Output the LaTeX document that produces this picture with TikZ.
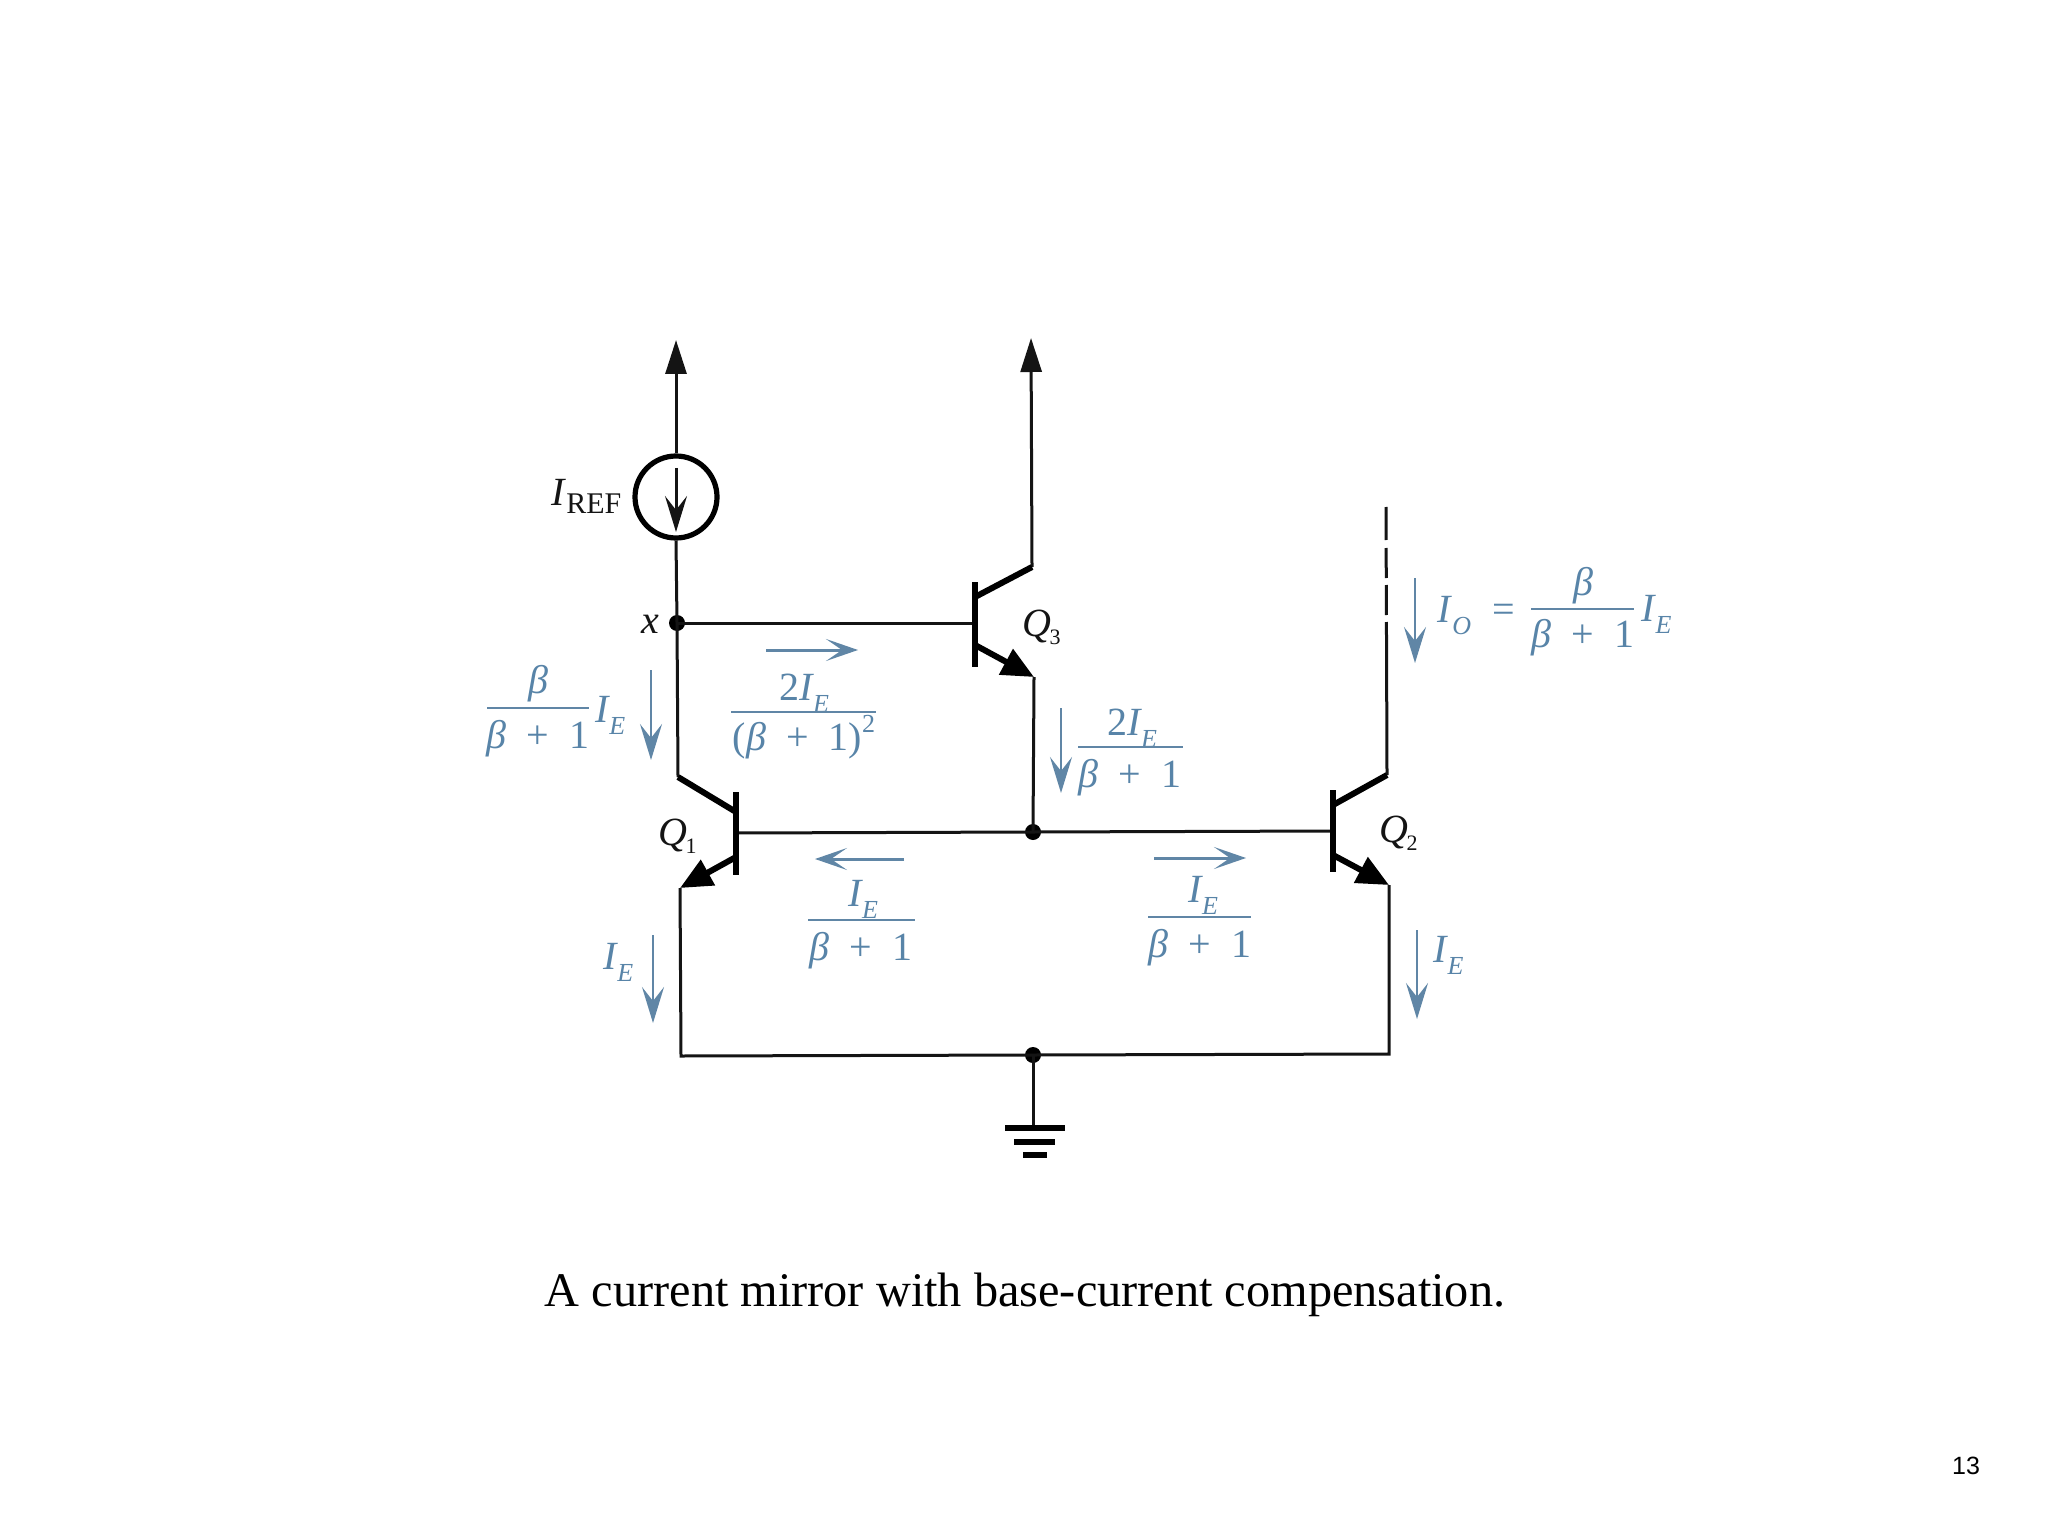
\documentclass[tikz,border=0pt]{standalone}
\usepackage{fontspec}
\setmainfont{Liberation Serif}
\newfontfamily\sansf{Liberation Sans}
\usetikzlibrary{arrows.meta}
\definecolor{bluelab}{RGB}{88,132,168}
\definecolor{blueline}{RGB}{96,134,166}
\definecolor{inkk}{RGB}{20,20,20}
\newcommand{\IE}{\textit{I}\kern-.02em\raisebox{-.32em}{\fontsize{13}{13}\selectfont\textit{E}}}
\newcommand{\bpo}{\textit{β}\hspace{.5em}+\hspace{.5em}1}
\tikzset{
  wire/.style={draw=inkk,line width=1.5pt},
  tbar/.style={draw=black,line width=3.2pt},
  tleg/.style={draw=black,line width=3pt},
  emit/.style={tleg,-{Triangle[length=16pt,width=14pt]}},
  dot/.style={circle,fill=black,inner sep=0pt,minimum size=8pt},
  lab/.style={inner sep=0pt,text=inkk,font=\fontsize{20}{22}\selectfont},
  blab/.style={inner sep=0pt,text=bluelab,anchor=base,font=\fontsize{20}{22}\selectfont},
  irule/.style={draw=blueline,line width=1.1pt},
  iarrow/.style={draw=blueline,line width=1.1pt,-{Stealth[length=18pt,width=11pt,inset=7pt]}},
  harrow/.style={draw=blueline,line width=1.5pt,-{Stealth[length=16pt,width=11pt,inset=8pt]}},
  gbar/.style={draw=black,line width=3pt},
  tiparrow/.style={draw=inkk,line width=1.5pt,-{Triangle[length=17pt,width=10.5pt]}}
}
\begin{document}
\begin{tikzpicture}[x=0.5pt,y=-0.5pt]
\useasboundingbox[fill=white] (0,0) rectangle (2048,1534);
% coordinates
\coordinate (top1) at (676,340);
\node[circle,draw=black,line width=2.6pt,minimum size=41pt,inner sep=0pt] (src) at (676,497) {};
\coordinate (srcA) at (676,468);
\coordinate (srcB) at (676,532);
\node[dot] (x) at (677,623) {};
\coordinate (q3c) at (1032,567);
\coordinate (q3ci) at (975,597);
\coordinate (q3e) at (1034,677);
\coordinate (q3ei) at (975,645);
\coordinate (q3b) at (975,623);
\coordinate (q3t) at (975,582);
\coordinate (q3u) at (975,667);
\coordinate (top3) at (1031,338);
\node[dot] (nb) at (1033,832) {};
\node[dot] (ng) at (1033,1055) {};
\coordinate (q1t) at (736,792);
\coordinate (q1u) at (736,875);
\coordinate (q1b) at (736,833);
\coordinate (q1c) at (678,777);
\coordinate (q1ci) at (736,812);
\coordinate (q1ei) at (736,857);
\coordinate (q1e) at (680,888);
\coordinate (q1bot) at (681,1056);
\coordinate (q2t) at (1333,790);
\coordinate (q2u) at (1333,872);
\coordinate (q2b) at (1333,831);
\coordinate (q2c) at (1387,775);
\coordinate (q2ci) at (1333,805);
\coordinate (q2ei) at (1333,855);
\coordinate (q2e) at (1389,885);
\coordinate (q2bot) at (1389,1054);
\coordinate (q2top) at (1386,507);
\coordinate (gnd) at (1033,1128);
% wires
\draw[tiparrow] (src.north) -- (top1);
\draw[wire] (src.south) -- (x.center);
\draw[wire] (x.center) -- (q1c);
\draw[wire] (x.center) -- (q3b);
\draw[tiparrow] (q3c) -- (top3);
\draw[wire] (q3e) -- (nb.center);
\draw[wire] (q1b) -- (nb.center) -- (q2b);
\draw[wire] (q1e) -- (q1bot) -- (ng.center) -- (q2bot) -- (q2e);
\draw[wire] (ng.center) -- (gnd);
\draw[wire,dash pattern=on 16.5pt off 4pt on 15pt off 3.5pt on 15pt off 3.5pt on 80pt] (q2top) -- (q2c);
% transistors
\draw[tbar] (q3t) -- (q3u);
\draw[tleg] (q3ci) -- (q3c);
\draw[emit] (q3ei) -- (q3e);
\draw[tbar] (q1t) -- (q1u);
\draw[tleg] (q1ci) -- (q1c);
\draw[emit] (q1ei) -- (q1e);
\draw[tbar] (q2t) -- (q2u);
\draw[tleg] (q2ci) -- (q2c);
\draw[emit] (q2ei) -- (q2e);
% source arrow
\draw[draw=inkk,line width=1.5pt,-{Stealth[length=18pt,width=11pt,inset=7pt]}] (srcA) -- (srcB);
% ground
\draw[gbar] (1005,1128) -- (1065,1128);
\draw[gbar] (1014,1142) -- (1055,1142);
\draw[gbar] (1023,1155) -- (1047,1155);
% black labels
\node[lab,anchor=base west] (iref) at (551,505) {\textit{I}\raisebox{-.2em}{\fontsize{15}{15}\selectfont REF}};
\node[lab,anchor=base] (xl) at (650,633) {\textit{x}};
\node[lab,anchor=base west] (q3l) at (1022,636) {\textit{Q}\kern-.04em\raisebox{-.2em}{\fontsize{11}{11}\selectfont 3}};
\node[lab,anchor=base west] (q1l) at (658,845) {\textit{Q}\kern-.04em\raisebox{-.2em}{\fontsize{11}{11}\selectfont 1}};
\node[lab,anchor=base west] (q2l) at (1379,842) {\textit{Q}\kern-.04em\raisebox{-.2em}{\fontsize{11}{11}\selectfont 2}};
% label: beta/(beta+1) IE, left
\node[blab] (an) at (538,693) {\textit{β}};
\coordinate (arl) at (487,708); \coordinate (arr) at (589,708);
\draw[irule] (arl) -- (arr);
\node[blab] (ad) at (538,748) {\bpo};
\node[blab,anchor=base west] (ai) at (595,722) {\IE};
\coordinate (aa1) at (651,670); \coordinate (aa2) at (651,760);
\draw[iarrow] (aa1) -- (aa2);
% label: 2IE/(beta+1)^2
\coordinate (ba1) at (766,650); \coordinate (ba2) at (858,650);
\draw[harrow] (ba1) -- (ba2);
\node[blab] (bn) at (804,700) {2\IE};
\coordinate (brl) at (731,712); \coordinate (brr) at (876,712);
\draw[irule] (brl) -- (brr);
\node[blab] (bd) at (804,750) {(\bpo)\raisebox{.45em}{\fontsize{13}{13}\selectfont 2}};
% label: 2IE/(beta+1), centre
\coordinate (ca1) at (1061,708); \coordinate (ca2) at (1061,793);
\draw[iarrow] (ca1) -- (ca2);
\node[blab] (cn) at (1132,735) {2\IE};
\coordinate (crl) at (1078,747); \coordinate (crr) at (1183,747);
\draw[irule] (crl) -- (crr);
\node[blab] (cd) at (1130,787) {\bpo};
% label: IO
\coordinate (da1) at (1415,578); \coordinate (da2) at (1415,663);
\draw[iarrow] (da1) -- (da2);
\node[blab,anchor=base west] (dl) at (1437,622) {\textit{I}\raisebox{-.32em}{\fontsize{13}{13}\selectfont\textit{O}}};
\node[blab] (de) at (1504,622) {=};
\node[blab] (dn) at (1583,595) {\textit{β}};
\coordinate (drl) at (1531,609); \coordinate (drr) at (1634,609);
\draw[irule] (drl) -- (drr);
\node[blab] (dd) at (1583,647) {\bpo};
\node[blab,anchor=base west] (dj) at (1641,621) {\IE};
% label: IE/(beta+1) left
\coordinate (ea1) at (904,859); \coordinate (ea2) at (815,859);
\draw[harrow] (ea1) -- (ea2);
\node[blab] (en) at (863,906) {\IE};
\coordinate (erl) at (808,920); \coordinate (err) at (915,920);
\draw[irule] (erl) -- (err);
\node[blab] (ed) at (861,960) {\bpo};
% label: IE/(beta+1) right
\coordinate (fa1) at (1154,858); \coordinate (fa2) at (1246,858);
\draw[harrow] (fa1) -- (fa2);
\node[blab] (fn) at (1203,902) {\IE};
\coordinate (frl) at (1148,917); \coordinate (frr) at (1251,917);
\draw[irule] (frl) -- (frr);
\node[blab] (fd) at (1200,957) {\bpo};
% IE arrows
\node[blab,anchor=base west] (gl) at (603,969) {\IE};
\coordinate (ga1) at (653,935); \coordinate (ga2) at (653,1023);
\draw[iarrow] (ga1) -- (ga2);
\node[blab,anchor=base west] (hl) at (1433,962) {\IE};
\coordinate (ha1) at (1417,930); \coordinate (ha2) at (1417,1019);
\draw[iarrow] (ha1) -- (ha2);
% caption and page number
\node[inner sep=0pt,anchor=base,text=black,font=\fontsize{24.15}{28}\selectfont] (cap) at (1025,1306) {A current mirror with base-current compensation.};
\node[inner sep=0pt,anchor=base,text=black,font=\sansf\fontsize{12.5}{14}\selectfont] (pg) at (1966,1474) {13};
\end{tikzpicture}
\end{document}
